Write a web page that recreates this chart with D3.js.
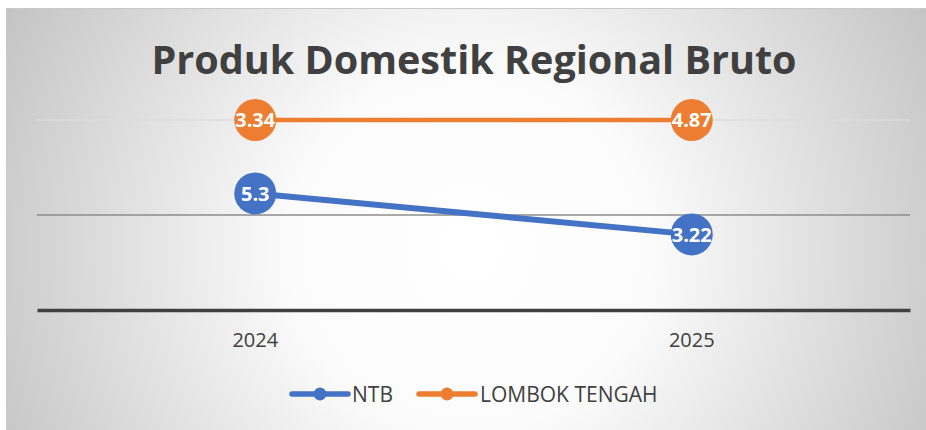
<!DOCTYPE html>
<html><head><meta charset="utf-8">
<script src="https://cdn.jsdelivr.net/npm/d3@7"></script>
<style>html,body{margin:0;padding:0;background:#fff;}svg{display:block;}</style>
</head><body>
<script>
const categories = ["2024", "2025"];
const seriesNames = ["NTB", "LOMBOK TENGAH"];
const ntbValues = [5.3, 3.22];
const lombokTengahValues = [3.34, 4.87];
const yTicks = [0, 0.5, 1];
const colors = ["#4472C4", "#ED7D31"];
const titleText = "Produk Domestik Regional Bruto";

const W = 926, H = 430;
const svg = d3.select("body").append("svg").attr("width", W).attr("height", H);
const defs = svg.append("defs");
const rg = defs.append("radialGradient").attr("id", "bg")
  .attr("gradientUnits", "userSpaceOnUse")
  .attr("cx", 470).attr("cy", 250).attr("r", 520);
rg.append("stop").attr("offset", "0%").attr("stop-color", "#ffffff");
rg.append("stop").attr("offset", "35%").attr("stop-color", "#fbfbfb");
rg.append("stop").attr("offset", "100%").attr("stop-color", "#c4c4c4");

svg.append("rect").attr("x", 6.5).attr("y", 8.5).attr("width", W).attr("height", H)
  .attr("fill", "url(#bg)").attr("stroke", "#c9c9c9").attr("stroke-width", 1);

const rows = categories.map((c, i) => ({cat: c, NTB: ntbValues[i], "LOMBOK TENGAH": lombokTengahValues[i]}));
const stacked = d3.stack().keys(seriesNames).offset(d3.stackOffsetExpand)(rows);

const x = d3.scaleBand().domain(categories).range([37, 910]);
const y = d3.scaleLinear().domain([0, 1]).range([310, 120]);

// gridlines
const gridColors = {0.5: "#8c8c8c", 1: "#dcdcdc"};
yTicks.filter(t => t > 0).forEach(t => {
  svg.append("line").attr("x1", 37).attr("x2", 910).attr("y1", y(t)).attr("y2", y(t))
    .attr("stroke", gridColors[t]).attr("stroke-width", 1.3);
});

// x axis
const xAxis = svg.append("g").attr("transform", `translate(0,${y(0)})`)
  .call(d3.axisBottom(x).tickSize(0).tickPadding(22));
xAxis.select(".domain").attr("stroke", "#404040").attr("stroke-width", 3.5);
xAxis.selectAll("text").attr("font-family", "'Open Sans', sans-serif").attr("font-size", 20)
  .attr("fill", "#404040").attr("dy", null).attr("y", 37);

// title
svg.append("text").attr("x", 474).attr("y", 74).attr("text-anchor", "middle")
  .attr("font-family", "'Open Sans', sans-serif").attr("font-weight", 700).attr("font-size", 40)
  .attr("fill", "#404040").attr("textLength", 645).attr("lengthAdjust", "spacingAndGlyphs")
  .text(titleText);

const line = d3.line().x(d => x(d.data.cat) + x.bandwidth() / 2).y(d => y(d[1]));
const rawVals = [ntbValues, lombokTengahValues];

stacked.forEach((s, si) => {
  svg.append("path").datum(s).attr("d", line).attr("fill", "none")
    .attr("stroke", colors[si]).attr("stroke-width", si === 0 ? 6 : 4.5)
    .attr("stroke-linecap", "round");
});
stacked.forEach((s, si) => {
  const g = svg.append("g");
  g.selectAll("circle").data(s).join("circle")
    .attr("cx", d => x(d.data.cat) + x.bandwidth() / 2).attr("cy", d => y(d[1]))
    .attr("r", 21).attr("fill", colors[si]);
  g.selectAll("text").data(s).join("text")
    .attr("x", d => x(d.data.cat) + x.bandwidth() / 2).attr("y", d => y(d[1]))
    .attr("dy", "0.36em").attr("text-anchor", "middle")
    .attr("font-family", "'Open Sans', sans-serif").attr("font-weight", 700).attr("font-size", 20)
    .attr("fill", "#ffffff")
    .text((d, i) => rawVals[si][i]);
});

// legend
const legend = [{name: seriesNames[0], x0: 292, tx: 352}, {name: seriesNames[1], x0: 419, tx: 480}];
legend.forEach((l, i) => {
  const g = svg.append("g");
  g.append("line").attr("x1", l.x0).attr("x2", l.x0 + 56).attr("y1", 394).attr("y2", 394)
    .attr("stroke", colors[i]).attr("stroke-width", 5.5).attr("stroke-linecap", "round");
  g.append("circle").attr("cx", l.x0 + 28).attr("cy", 394).attr("r", 6.5).attr("fill", colors[i]);
  g.append("text").attr("x", l.tx).attr("y", 401.5)
    .attr("font-family", "'Open Sans', sans-serif").attr("font-size", 21).attr("fill", "#404040")
    .text(l.name);
});
</script>
</body></html>
